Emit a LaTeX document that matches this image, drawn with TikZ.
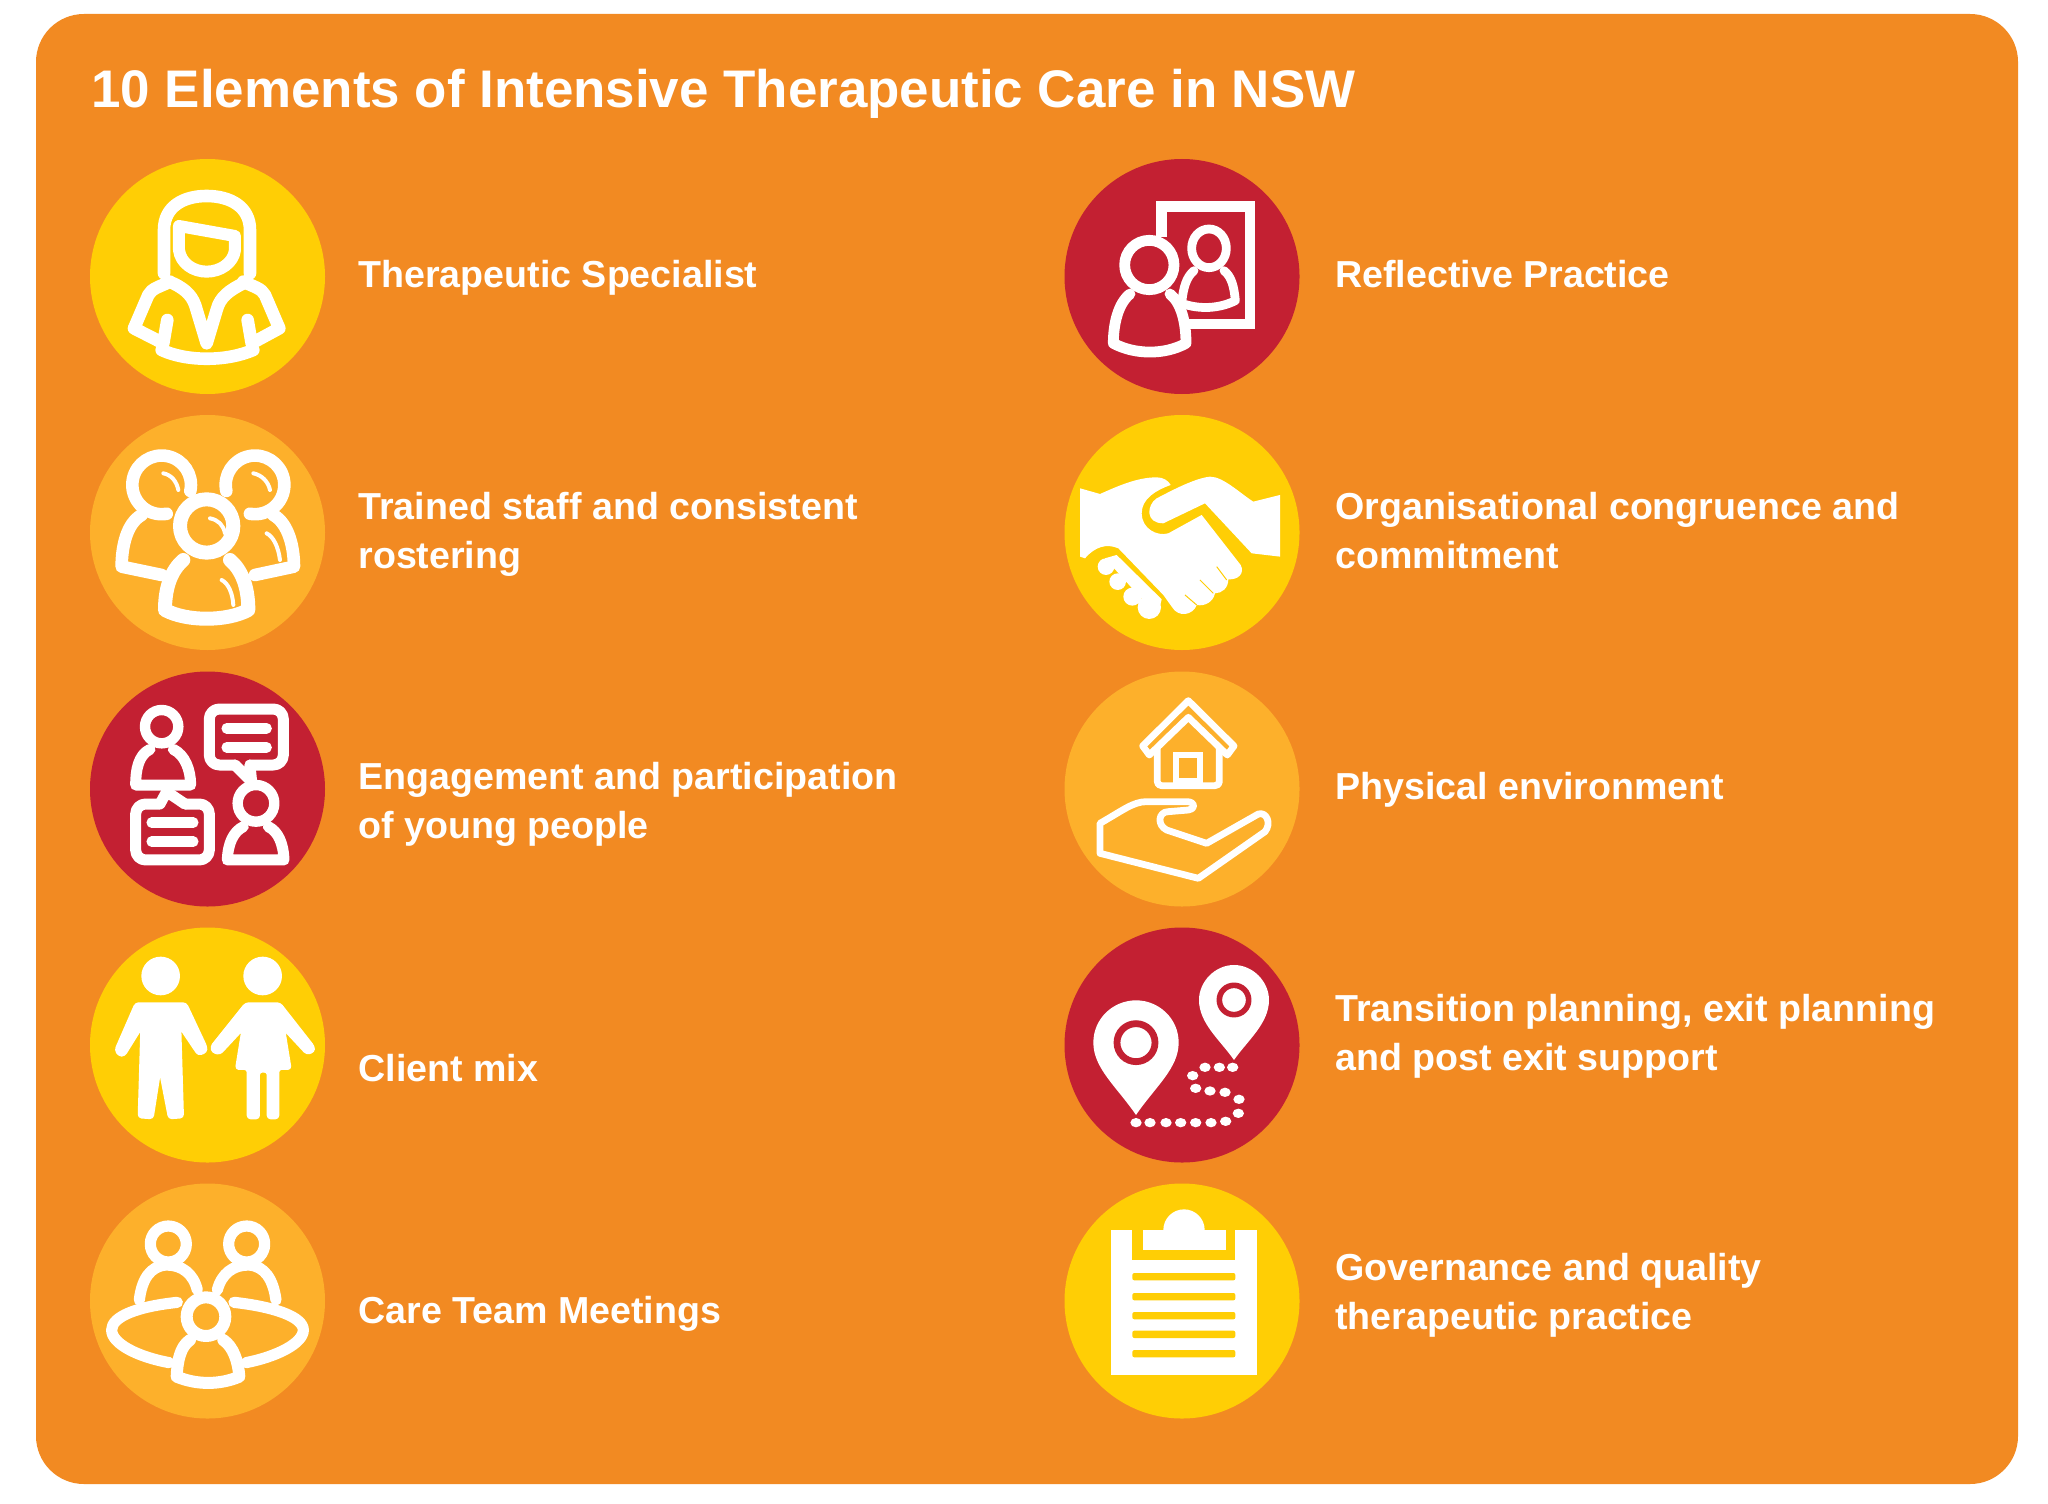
\documentclass[tikz,border=0pt]{standalone}
\usepackage{fontspec}
\setmainfont{Liberation Sans}
\definecolor{bgorange}{HTML}{F28A22}
\definecolor{yel}{HTML}{FFCE05}
\definecolor{lightor}{HTML}{FDB02B}
\definecolor{redc}{HTML}{C32032}
\tikzset{
 zoomed/.style 2 args={shift={(#1/2,-#2/2)},xscale=1/6,yscale=-1/6},
 disc/.style={circle,minimum size=117.5pt,inner sep=0pt,draw=none},
 lab/.style={anchor=west,align=left,inner sep=0pt,text=white,font=\fontsize{18.8}{24.5}\selectfont\bfseries},
 titl/.style={anchor=west,inner sep=0pt,text=white,font=\fontsize{26.45}{30}\selectfont\bfseries},
 ln/.style={draw=white,line width=#1,line cap=round,line join=round,fill=none},
 ln/.default=5pt
}
\begin{document}
\begin{tikzpicture}[x=1pt,y=1pt]
\useasboundingbox (0,0) rectangle (1024,-751.5);
\fill[white] (0,0) rectangle (1024,-751.5);
\fill[bgorange,rounded corners=24pt] (18,-7) rectangle (1009,-742);
\node[titl] (title) at (45.5,-47) {10 Elements of Intensive Therapeutic Care in NSW};
% discs
\node[disc,fill=yel] (c1) at (103.75,-138.25) {};
\node[disc,fill=lightor] (c2) at (103.75,-266.25) {};
\node[disc,fill=redc] (c3) at (103.75,-394.5) {};
\node[disc,fill=yel] (c4) at (103.75,-522.5) {};
\node[disc,fill=lightor] (c5) at (103.75,-650.5) {};
\node[disc,fill=redc] (d1) at (591,-138.25) {};
\node[disc,fill=yel] (d2) at (591,-266.25) {};
\node[disc,fill=lightor] (d3) at (591,-394.5) {};
\node[disc,fill=redc] (d4) at (591,-522.5) {};
\node[disc,fill=yel] (d5) at (591,-650.5) {};
% labels
\node[lab] (t1) at (179,-138.7) {\strut Therapeutic Specialist};
\node[lab] (t2) at (179,-267) {\strut Trained staff and consistent\\\strut rostering};
\node[lab] (t3) at (179,-402.2) {\strut Engagement and participation\\\strut of young people};
\node[lab] (t4) at (179,-535.8) {\strut Client mix};
\node[lab] (t5) at (179,-656.6) {\strut Care Team Meetings};
\node[lab] (u1) at (667.5,-138.7) {\strut Reflective Practice};
\node[lab] (u2) at (667.5,-267) {\strut Organisational congruence and\\\strut commitment};
\node[lab] (u3) at (667.5,-394.7) {\strut Physical environment};
\node[lab] (u4) at (667.5,-518.1) {\strut Transition planning, exit planning\\\strut and post exit support};
\node[lab] (u5) at (667.5,-647.7) {\strut Governance and quality\\\strut therapeutic practice};
% icon 1
\begin{scope}[zoomed={70}{140}]
\draw[ln=6.3pt] (282,400) -- (282,270) .. controls (282,200) and (340,168) .. (410,168) .. controls (480,168) and (540,200) .. (540,270) -- (540,400);
\draw[ln=6pt] (327,258) -- (495,288) -- (495,330) .. controls (490,370) and (450,395) .. (410,395) .. controls (370,395) and (332,370) .. (327,330) -- cycle;
\draw[ln=6.3pt] (300,425) .. controls (270,440) and (245,445) .. (235,465) -- (192,565) -- (280,610) -- (292,540);
\draw[ln=6.3pt] (520,425) .. controls (550,440) and (575,445) .. (585,465) -- (628,565) -- (545,610) -- (533,540);
\draw[ln=6.3pt] (275,630) .. controls (350,665) and (470,665) .. (550,630);
\draw[ln=6.3pt] (310,430) .. controls (350,450) and (370,470) .. (380,510) -- (410,610) -- (440,510) .. controls (450,470) and (480,450) .. (520,430);
\end{scope}
% icon 2
\begin{scope}[zoomed={70}{140}]
\draw[ln=6.3pt] (361,1053) arc[start angle=12,end angle=-280,radius=88pt];
\draw[ln=6.3pt] (215,1125) .. controls (170,1150) and (155,1220) .. (155,1280) -- (275,1305);
\draw[ln=2pt] (280,1000) .. controls (305,1005) and (320,1025) .. (325,1050);
\draw[ln=6.3pt] (469,1053) arc[start angle=168,end angle=460,radius=88pt];
\draw[ln=6.3pt] (610,1125) .. controls (655,1150) and (672,1220) .. (672,1280) -- (555,1305);
\draw[ln=2pt] (550,1000) .. controls (575,1005) and (595,1025) .. (600,1050);
\draw[ln=2pt] (590,1180) .. controls (610,1190) and (625,1220) .. (630,1260);
\draw[ln=7pt] (410,1158) circle[radius=80pt];
\draw[ln=2pt] (420,1135) .. controls (445,1140) and (460,1155) .. (465,1180);
\draw[ln=7pt] (340,1260) .. controls (305,1290) and (285,1340) .. (285,1410) .. controls (350,1445) and (470,1445) .. (535,1410) .. controls (535,1340) and (515,1290) .. (480,1260);
\draw[ln=2pt] (455,1320) .. controls (475,1330) and (488,1360) .. (490,1395);
\end{scope}
% icon 3
\begin{scope}[zoomed={70}{660}]
\draw[ln=5.2pt] (275,200) circle[radius=50pt];
\draw[ln=5.5pt] (240,268) .. controls (205,285) and (197,330) .. (197,375) -- (362,375) .. controls (362,330) and (345,285) .. (310,268);
\draw[ln=5.5pt,rounded corners=5pt] (270,432) -- (197,432) -- (197,600) -- (418,600) -- (418,432) -- (345,432);
\draw[ln=5.5pt] (270,432) -- (290,395) -- (345,432);
\draw[ln=5.2pt] (245,488) -- (370,488) (245,545) -- (370,545);
\draw[ln=5.5pt,rounded corners=5pt] (495,315) -- (418,315) -- (418,147) -- (640,147) -- (640,315) -- (540,315);
\draw[ln=5.5pt] (495,315) -- (545,365) -- (540,315);
\draw[ln=5.2pt] (470,205) -- (590,205) (470,262) -- (590,262);
\draw[ln=5.2pt] (558,430) circle[radius=55pt];
\draw[ln=5.5pt] (520,500) .. controls (490,515) and (474,550) .. (472,600) -- (642,600) .. controls (640,550) and (625,515) .. (595,500);
\end{scope}
% icon 4
\begin{scope}[zoomed={70}{660}]
\fill[white] (272,948) circle[radius=58pt] (578,948) circle[radius=58pt];
\filldraw[white,line width=1pt,line join=round,rounded corners=1.5pt] (197,1030) -- (136,1170) -- (147,1187) -- (163,1187) -- (214,1105) -- (206,1372) -- (248,1375) -- (270,1235) -- (297,1375) -- (339,1372) -- (331,1105) -- (385,1185) -- (409,1176) -- (409,1160) -- (348,1030) -- cycle;
\filldraw[white,line width=1pt,line join=round,rounded corners=1.5pt] (527,1030) -- (423,1160) -- (428,1177) -- (450,1182) -- (517,1110) -- (498,1227) -- (533,1227) -- (533,1375) -- (567,1375) -- (567,1235) -- (593,1235) -- (593,1375) -- (625,1375) -- (625,1227) -- (662,1227) -- (643,1110) -- (710,1182) -- (732,1175) -- (732,1160) -- (630,1030) -- cycle;
\end{scope}
% icon 5
\begin{scope}[zoomed={70}{1170}]
\draw[ln=5.6pt] (295,222) circle[radius=54pt] (530,222) circle[radius=54pt];
\draw[ln=5.6pt] (208,390) .. controls (215,330) and (240,287) .. (290,285) .. controls (335,285) and (370,310) .. (382,360);
\draw[ln=5.6pt] (442,360) .. controls (455,310) and (490,285) .. (535,285) .. controls (585,287) and (610,330) .. (618,390);
\draw[ln=5.6pt] (322,397) .. controls (200,410) and (125,440) .. (125,480) .. controls (125,520) and (200,560) .. (298,578);
\draw[ln=5.6pt] (492,397) .. controls (610,410) and (700,440) .. (700,480) .. controls (700,520) and (620,560) .. (528,578);
\draw[ln=6pt] (408,440) circle[radius=58pt];
\draw[ln=6pt] (360,510) .. controls (330,530) and (322,575) .. (320,620) .. controls (380,645) and (450,645) .. (508,620) .. controls (505,575) and (490,530) .. (460,510);
\end{scope}
% icon r1
\begin{scope}[zoomed={1050}{140}]
\draw[white,line width=5.2pt] (335,290) -- (335,200) -- (600,200) -- (600,552) -- (415,552);
\draw[ln=5.4pt] (298,375) circle[radius=74pt];
\draw[ln=5.4pt] (240,462) .. controls (205,490) and (190,550) .. (190,610) .. controls (255,645) and (345,645) .. (408,610) .. controls (408,550) and (395,490) .. (360,462);
\draw[ln=4.4pt] (477,325) ellipse[x radius=52pt,y radius=58pt];
\draw[ln=4.4pt] (432,392) .. controls (410,410) and (400,440) .. (395,490) .. controls (450,510) and (510,505) .. (556,482) .. controls (552,440) and (545,410) .. (522,392);
\end{scope}
% icon r2
\begin{scope}[zoomed={1050}{140}]
\fill[white] (90,1045) -- (150,1062) .. controls (200,1040) and (260,1012) .. (320,1012) .. controls (340,1012) and (355,1022) .. (362,1035) .. controls (320,1050) and (275,1075) .. (275,1120) .. controls (275,1165) and (320,1190) .. (355,1180) -- (455,1125) -- (572,1275) .. controls (585,1300) and (565,1320) .. (535,1318) .. controls (535,1345) and (515,1360) .. (495,1360) .. controls (490,1385) and (465,1400) .. (440,1395) .. controls (430,1425) and (385,1435) .. (365,1400) -- (340,1365) -- (205,1225) .. controls (170,1210) and (135,1220) .. (105,1255) -- (90,1250) -- cycle;
\fill[white] (690,1065) -- (610,1085) .. controls (570,1060) and (520,1010) .. (480,1010) .. controls (430,1015) and (350,1060) .. (320,1075) .. controls (290,1095) and (285,1150) .. (340,1150) -- (465,1090) -- (605,1240) -- (690,1250) -- cycle;
\fill[white] (165,1255) -- (200,1245) -- (335,1378) -- (325,1420) -- (298,1402) -- cycle;
\fill[white] (168,1280) circle[radius=25pt] (203,1325) circle[radius=25pt] (247,1370) circle[radius=27pt] (298,1402) circle[radius=35pt];
\draw[yel,line width=0.5pt] (500,1280) -- (530,1320) (450,1320) -- (490,1360) (405,1365) -- (440,1395);
\end{scope}
% icon r3
\begin{scope}[zoomed={1050}{660}]
\draw[ln=3.4pt] (278,258) -- (415,122) -- (552,258) -- (532,285) -- (415,172) -- (298,285) -- cycle;
\draw[ln=3.4pt] (322,265) -- (322,365) .. controls (322,372) and (327,377) .. (335,377) -- (495,377) .. controls (503,377) and (508,372) .. (508,365) -- (508,265);
\draw[white,line width=3.4pt] (378,285) rectangle (450,365);
\draw[ln=3.4pt] (150,490) -- (150,580) -- (445,655) -- (645,515) .. controls (665,490) and (650,455) .. (625,462) -- (470,550) -- (350,510) .. controls (320,495) and (325,455) .. (355,455) -- (415,450) .. controls (440,445) and (435,425) .. (410,425) -- (290,425) .. controls (250,425) and (220,450) .. (150,490) -- cycle;
\end{scope}
% icon r4
\begin{scope}[zoomed={1050}{660}]
\fill[white] (258,1365) .. controls (200,1280) and (130,1225) .. (130,1148) .. controls (130,1075) and (190,1021) .. (258,1021) .. controls (326,1021) and (386,1075) .. (386,1148) .. controls (386,1225) and (316,1280) .. (258,1365) -- cycle;
\draw[redc,line width=3.4pt] (258,1148) circle[radius=57pt];
\fill[white] (552,1200) .. controls (510,1140) and (447,1090) .. (447,1020) .. controls (447,965) and (495,915) .. (552,915) .. controls (609,915) and (657,965) .. (657,1020) .. controls (657,1090) and (594,1140) .. (552,1200) -- cycle;
\draw[redc,line width=2.8pt] (552,1020) circle[radius=44pt];
\foreach \px/\py in {258/1388,300/1388,348/1388,392/1388,437/1388,483/1388,527/1384,565/1360,567/1318,525/1297,480/1293,437/1285,428/1247,465/1222,508/1222,548/1222}
 \fill[white] (\px,\py) ellipse[x radius=17pt,y radius=14pt];
\end{scope}
% icon r5
\begin{scope}[zoomed={1050}{1170}]
\fill[white] (183,180) rectangle (620,615);
\fill[yel] (245,178) rectangle (555,270);
\fill[white] (278,180) rectangle (528,240);
\fill[white] (340,180) arc[start angle=180,end angle=360,radius=62pt] -- cycle;
\foreach \by in {320,380,437,493,551}
 \fill[yel,rounded corners=1pt] (247,\by-11) rectangle (556,\by+11);
\end{scope}
\end{tikzpicture}
\end{document}
